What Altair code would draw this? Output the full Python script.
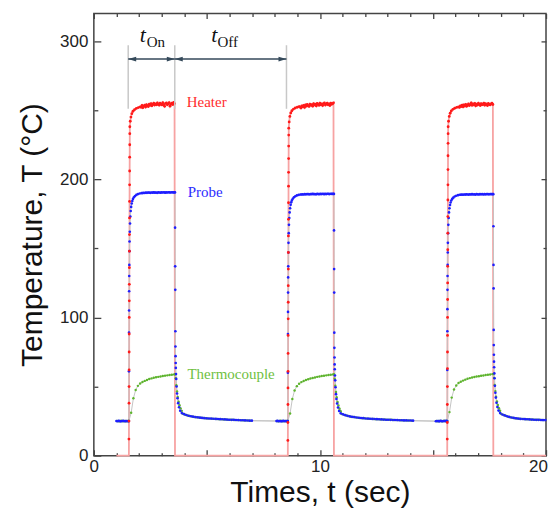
import altair as alt
import pandas as pd

# ---------------- timing of the heater pulses (s) ----------------
ON = [1.55, 8.58, 15.63]
OFF = [3.59, 10.62, 17.67]

# ---------------- Heater ----------------
heater_rise_dt = [0, .002, .004, .006, .008, .010, .012, .014, .016, .018, .020, .022, .024, .026,
                  .028, .030, .032, .034, .036, .038, .040, .042, .06, .09, .13, .18, .25, .33, .42, .50]
heater_rise = [
    [0, 12, 25, 38, 50, 62, 75, 88, 100, 112, 124, 136, 148, 160, 172, 184, 196, 206, 216, 225, 233, 238,
     242, 245, 247.5, 249.2, 250.4, 251.3, 251.9, 252.4],
    [0, 11, 24, 37, 49, 61, 74, 87, 99, 111, 123, 135, 147, 159, 171, 183, 195, 205, 215, 224, 232, 237,
     241.5, 245.5, 248, 249.6, 250.8, 251.6, 252.1, 252.6],
    [0, 12, 24, 37, 50, 63, 75, 87, 100, 113, 125, 137, 149, 161, 173, 185, 196, 207, 217, 226, 233, 238,
     242, 245.5, 247.8, 249.4, 250.6, 251.4, 252.0, 252.4],
]
heater_plateau_t0, heater_plateau_step = 0.54, 0.04
heater_plateau = [
    [252.1, 253.4, 251.8, 252.9, 253.6, 252.3, 254.0, 253.1, 252.6, 254.3, 253.5, 254.8, 253.2, 254.1,
     255.0, 253.7, 254.6, 253.9, 255.3, 254.2, 253.6, 255.1, 254.4, 253.8, 255.4, 254.0, 252.8, 254.9,
     255.2, 253.9, 254.6, 255.5, 252.9, 254.3, 255.0, 254.1, 255.6, 254.8],
    [252.3, 251.6, 253.0, 252.4, 253.5, 252.0, 253.8, 252.9, 254.1, 253.2, 252.7, 254.4, 253.6, 254.0,
     252.9, 254.7, 253.8, 254.3, 253.1, 254.9, 254.2, 253.5, 255.0, 253.9, 254.5, 253.3, 254.8, 255.2,
     253.7, 254.4, 255.1, 253.9, 254.6, 253.4, 255.0, 254.3, 254.7, 255.3],
    [252.0, 253.1, 252.6, 253.7, 252.4, 253.9, 253.0, 254.2, 252.8, 253.6, 254.5, 253.3, 254.0, 255.2,
     253.5, 254.6, 253.8, 254.9, 253.2, 254.4, 253.7, 255.0, 254.1, 253.4, 254.8, 253.9, 254.3, 255.1,
     253.6, 254.7, 254.0, 253.3, 254.9, 254.2, 253.8, 254.6, 255.0, 254.1],
]

# ---------------- Probe ----------------
probe_pre_step = 0.05
probe_pre = [
    [25.1, 24.9, 25.2, 25.0, 24.8, 25.1, 25.2, 24.9, 25.0, 25.1, 24.9],
    [25.0, 25.2, 24.9, 25.1, 24.8, 25.0, 25.2, 24.9, 25.1, 25.0],
    [24.9, 25.1, 25.0, 24.8, 25.2, 25.0, 24.9, 25.1, 25.0, 25.2],
]
probe_rise_dt = [0.0, 0.003, 0.006, 0.009, 0.012, 0.015, 0.02, 0.025, 0.03, 0.04, 0.05, 0.065, 0.08,
                 0.1, 0.125, 0.15, 0.18, 0.22, 0.27, 0.33, 0.4, 0.48, 0.56]
probe_rise = [
    [25, 61, 89, 105, 119, 130, 138, 148, 155, 162, 168, 173, 177, 180, 182.5, 184.3, 185.7, 186.9,
     187.9, 188.7, 189.3, 189.7, 190.0],
    [25, 60, 88, 104, 118, 129, 137, 147, 154, 161, 167, 172, 176, 179, 181.5, 183.3, 184.7, 185.9,
     186.9, 187.7, 188.3, 188.7, 189.0],
    [25, 62, 90, 106, 120, 130, 138, 147, 154, 161, 167, 172, 176, 179, 181.4, 183.2, 184.6, 185.8,
     186.7, 187.5, 188.1, 188.5, 188.8],
]
probe_plateau_t0, probe_plateau_step = 0.6, 0.05
probe_plateau = [
    [190.0, 190.2, 190.1, 190.3, 190.2, 190.4, 190.3, 190.2, 190.4, 190.3, 190.5, 190.3, 190.4, 190.2,
     190.5, 190.4, 190.3, 190.5, 190.4, 190.6, 190.3, 190.5, 190.4, 190.6, 190.5, 190.4, 190.6, 190.5,
     190.5],
    [189.0, 189.1, 189.0, 189.2, 189.1, 189.3, 189.2, 189.1, 189.3, 189.2, 189.4, 189.2, 189.3, 189.1,
     189.4, 189.3, 189.2, 189.4, 189.3, 189.5, 189.2, 189.4, 189.3, 189.5, 189.4, 189.3, 189.5, 189.4,
     189.4],
    [188.8, 188.9, 188.8, 189.0, 188.9, 189.1, 189.0, 188.9, 189.1, 189.0, 189.2, 189.0, 189.1, 188.9,
     189.2, 189.1, 189.0, 189.2, 189.1, 189.3, 189.0, 189.2, 189.1, 189.3, 189.2, 189.1, 189.3, 189.2,
     189.2],
]
probe_decay_ds = [0.0, 0.004, 0.008, 0.012, 0.016, 0.02, 0.025, 0.03, 0.035, 0.045, 0.055, 0.07,
                  0.09, 0.11, 0.14, 0.18, 0.23, 0.3]
probe_decay = [
    [190.5, 165, 137, 120, 90, 79, 72, 67, 63.5, 59, 55.5, 50, 45, 41.5, 38, 35, 32.5, 30.8],
    [189.4, 163, 135, 118, 89, 78, 71, 66, 62.5, 58, 54.5, 49.5, 44.5, 41, 37.7, 34.8, 32.3, 30.6],
    [189.2, 166, 138, 121, 91, 80, 73, 68, 64, 59.5, 56, 50.5, 45.5, 42, 38.3, 35.2, 32.6, 30.8],
]
probe_tail_t0, probe_tail_step = 0.4, 0.1
probe_tail = [
    [30.0, 29.4, 28.9, 28.5, 28.2, 27.9, 27.7, 27.5, 27.3, 27.1, 27.0, 26.9, 26.8, 26.7, 26.6, 26.5,
     26.4, 26.3, 26.2, 26.1, 26.0, 25.9, 25.9, 25.8, 25.7, 25.6, 25.6, 25.5, 25.4, 25.3, 25.3],
    [29.9, 29.3, 28.8, 28.4, 28.1, 27.9, 27.6, 27.4, 27.2, 27.1, 26.9, 26.8, 26.7, 26.6, 26.5, 26.4,
     26.3, 26.2, 26.1, 26.0, 26.0, 25.9, 25.8, 25.8, 25.7, 25.6, 25.6, 25.5, 25.5, 25.4, 25.4, 25.3],
    [29.8, 29.1, 28.5, 28.0, 27.6, 27.3, 27.0, 26.8, 26.6, 26.5, 26.4, 26.3, 26.2, 26.1, 26.0, 25.9,
     25.9, 25.8, 25.7, 25.7],
]

# ---------------- Thermocouple ----------------
thermo_pre = [
    [25.0, 25.1, 24.9, 25.0, 25.2, 24.9, 25.0, 25.1, 24.8, 25.0, 25.1],
    [25.1, 24.9, 25.0, 25.2, 25.0, 24.9, 25.1, 25.0, 24.8, 25.0],
    [25.0, 24.9, 25.1, 25.0, 25.1, 24.8, 25.0, 25.2, 24.9, 25.0],
]
thermo_rise_step = 0.1
thermo_rise = [
    [25.0, 31.0, 41.5, 47.5, 50.5, 52.2, 53.3, 54.1, 54.8, 55.4, 55.9, 56.3, 56.7, 57.0, 57.3, 57.6,
     57.9, 58.1, 58.4, 58.6, 58.8],
    [25.0, 30.5, 41.0, 47.2, 50.3, 52.0, 53.2, 54.0, 54.7, 55.3, 55.8, 56.2, 56.6, 57.0, 57.3, 57.6,
     57.8, 58.1, 58.3, 58.6, 58.8],
    [25.0, 31.5, 42.0, 47.8, 50.8, 52.5, 53.5, 54.3, 55.0, 55.6, 56.1, 56.5, 56.9, 57.2, 57.5, 57.8,
     58.0, 58.3, 58.5, 58.7, 59.0],
]
thermo_decay_ds = [0.0, 0.03, 0.06, 0.09, 0.12, 0.16, 0.2, 0.25, 0.3]
thermo_decay = [
    [58.9, 56.0, 51.0, 46.5, 42.5, 39.0, 36.5, 34.2, 32.4],
    [58.9, 55.7, 50.6, 46.1, 42.2, 38.8, 36.3, 34.0, 32.2],
    [59.1, 56.2, 51.2, 46.7, 42.7, 39.2, 36.6, 34.3, 32.5],
]
thermo_tail_t0, thermo_tail_step = 0.35, 0.1
thermo_tail = [
    [30.3, 29.6, 29.1, 28.7, 28.3, 28.0, 27.8, 27.6, 27.4, 27.2, 27.0, 26.9, 26.8, 26.7, 26.6, 26.5,
     26.4, 26.3, 26.2, 26.1, 26.0, 26.0, 25.9, 25.8, 25.7, 25.7, 25.6, 25.5, 25.5, 25.4, 25.3],
    [30.2, 29.5, 29.0, 28.6, 28.2, 27.9, 27.7, 27.5, 27.3, 27.1, 27.0, 26.8, 26.7, 26.6, 26.5, 26.4,
     26.3, 26.2, 26.1, 26.1, 26.0, 25.9, 25.9, 25.8, 25.7, 25.7, 25.6, 25.5, 25.5, 25.4, 25.4, 25.3],
    [30.1, 29.4, 28.8, 28.2, 27.8, 27.4, 27.1, 26.9, 26.7, 26.6, 26.5, 26.4, 26.3, 26.2, 26.1, 26.0,
     25.9, 25.9, 25.8, 25.7],
]

# ---------------- annotation values ----------------
marker_times = [1.52, 3.58, 8.52]          # thin grey guide lines
marker_low, marker_high = 251, 297
arrow_level = 287
series_labels = ["Heater", "Probe", "Thermocouple"]


# ---------------- assemble tables ----------------
def grid(t0, step, n):
    return [t0 + step * k for k in range(n)]


def build_heater():
    t, v = [1.0], [0.0]
    for c in range(3):
        t += [ON[c] + d for d in heater_rise_dt]
        v += heater_rise[c]
        t += [ON[c] + d for d in grid(heater_plateau_t0, heater_plateau_step, len(heater_plateau[c]))]
        v += heater_plateau[c]
        t += [OFF[c]]
        v += [0.0]
    t += [20.0]
    v += [0.0]
    return pd.DataFrame({"t": t, "T": v, "i": range(len(t))})


def build_probe():
    t, v = [], []
    for c in range(3):
        n = len(probe_pre[c])
        t += [ON[c] - probe_pre_step * (n - k) for k in range(n)]
        v += probe_pre[c]
        t += [ON[c] + d for d in probe_rise_dt]
        v += probe_rise[c]
        t += [ON[c] + d for d in grid(probe_plateau_t0, probe_plateau_step, len(probe_plateau[c]))]
        v += probe_plateau[c]
        t += [OFF[c] + d for d in probe_decay_ds]
        v += probe_decay[c]
        t += [OFF[c] + d for d in grid(probe_tail_t0, probe_tail_step, len(probe_tail[c]))]
        v += probe_tail[c]
    return pd.DataFrame({"t": t, "T": v, "i": range(len(t))})


def build_thermo():
    t, v = [], []
    for c in range(3):
        n = len(thermo_pre[c])
        t += [ON[c] - probe_pre_step * (n - k) + probe_pre_step / 2 for k in range(n)]
        v += thermo_pre[c]
        t += [ON[c] + d for d in grid(0.0, thermo_rise_step, len(thermo_rise[c]))]
        v += thermo_rise[c]
        t += [OFF[c] + d for d in thermo_decay_ds]
        v += thermo_decay[c]
        t += [OFF[c] + d for d in grid(thermo_tail_t0, thermo_tail_step, len(thermo_tail[c]))]
        v += thermo_tail[c]
    return pd.DataFrame({"t": t, "T": v, "i": range(len(t))})


heater_df = build_heater()
probe_df = build_probe()
thermo_df = build_thermo()

markers_df = pd.DataFrame({"t": marker_times, "lo": [marker_low] * 3, "hi": [marker_high] * 3})
arrows_df = pd.DataFrame({"t": marker_times[:2], "t2": marker_times[1:], "T": [arrow_level] * 2})
heads_right_df = pd.DataFrame({"t": marker_times[1:], "T": [arrow_level] * 2})
heads_left_df = pd.DataFrame({"t": marker_times[:2], "T": [arrow_level] * 2})

labels_df = pd.DataFrame({
    "t": [4.11, 4.15, 4.14],
    "T": [252.4, 187.5, 55.5],
    "label": series_labels,
    "color": ["#ff2d2d", "#2d2dff", "#6fbf3f"],
})
t_df = pd.DataFrame({"t": [2.03, 5.19], "T": [299, 299], "label": ["t", "t"]})
sub_df = pd.DataFrame({"t": [2.34, 5.47], "T": [296, 296], "label": ["On", "Off"]})

# ---------------- scales & axes ----------------
W, H = 453, 443
XS = alt.Scale(domain=[0, 20], nice=False, zero=False)
YS = alt.Scale(domain=[0, 320], nice=False)
INK = "#444444"
SANS = "Liberation Sans"
SERIF = "Liberation Serif"

x_main = alt.Axis(orient="bottom", values=[0, 10, 20], ticks=False, domain=False, grid=False,
                  labelFont=SANS, labelFontSize=17, labelColor="#222222", labelPadding=3,
                  labelFlush=False,
                  labelOffset={"condition": {"test": "datum.value === 20", "value": -8}, "value": 0},
                  title="Times, t (sec)", titleFont=SANS, titleFontSize=30,
                  titleFontWeight="normal", titleColor="#111111", titlePadding=3)
y_main = alt.Axis(orient="left", values=[0, 100, 200, 300], ticks=False, domain=False, grid=False,
                  labelFont=SANS, labelFontSize=17, labelColor="#222222", labelPadding=6,
                  title="Temperature, T (°C)", titleFont=SANS, titleFontSize=30,
                  titleFontWeight="normal", titleColor="#111111", titlePadding=12)


def tick_axis(orient, offset, values, test, big, small):
    return alt.Axis(orient=orient, offset=offset, values=values, labels=False, domain=False,
                    grid=False, title=None, tickColor=INK, tickWidth=1.3,
                    tickSize={"condition": {"test": test, "value": big}, "value": small})


x_vals = list(range(0, 21))
y_vals = list(range(0, 301, 50))
x_in_bottom = tick_axis("top", -H, x_vals, "datum.value % 5 === 0", 6, 3)
x_in_top = tick_axis("bottom", -H, x_vals, "datum.value % 5 === 0", 5, 3)
y_in_left = tick_axis("right", -W, y_vals, "datum.value % 100 === 0", 7, 4)
y_in_right = tick_axis("left", -W, y_vals, "datum.value % 100 === 0", 5, 3)


def xy(x_axis=None, y_axis=None, xf="t:Q", yf="T:Q"):
    return dict(x=alt.X(xf, scale=XS, axis=x_axis), y=alt.Y(yf, scale=YS, axis=y_axis))


heater_line = alt.Chart(heater_df).mark_line(color="#f7a3a3", strokeWidth=1.8).encode(
    order="i:Q", **xy(x_main, y_main))
probe_line = alt.Chart(probe_df).mark_line(color="#c4c4c4", strokeWidth=1).encode(
    order="i:Q", **xy(x_in_bottom, y_in_left))
thermo_line = alt.Chart(thermo_df).mark_line(color="#c4c4c4", strokeWidth=1).encode(
    order="i:Q", **xy(x_in_top, y_in_right))

thermo_pts = alt.Chart(thermo_df).mark_circle(size=6, opacity=1, color="#5db52c").encode(**xy())
probe_pts = alt.Chart(probe_df).mark_circle(size=7, opacity=1, color="#1e1eff").encode(**xy())
heater_pts = alt.Chart(heater_df).transform_filter("datum.T > 0").mark_circle(
    size=8, opacity=1, color="#ff1a1a").encode(**xy())

markers = alt.Chart(markers_df).mark_rule(color="#c8c8c8", strokeWidth=1.5).encode(
    x=alt.X("t:Q", scale=XS, axis=None), y=alt.Y("lo:Q", scale=YS, axis=None), y2="hi:Q")
arrows = alt.Chart(arrows_df).mark_rule(color="#34495a", strokeWidth=1.4).encode(
    x=alt.X("t:Q", scale=XS, axis=None), x2="t2:Q", y=alt.Y("T:Q", scale=YS, axis=None))
heads_r = alt.Chart(heads_right_df).mark_point(
    shape="M -1 -0.6 L 1 0 L -1 0.6 Z", size=64, filled=True, opacity=1, color="#34495a",
    strokeWidth=0, xOffset=-4).encode(**xy())
heads_l = alt.Chart(heads_left_df).mark_point(
    shape="M 1 -0.6 L -1 0 L 1 0.6 Z", size=64, filled=True, opacity=1, color="#34495a",
    strokeWidth=0, xOffset=4).encode(**xy())

series_text = alt.Chart(labels_df).mark_text(
    font=SERIF, fontSize=15, align="left", baseline="alphabetic").encode(
    text="label:N", color=alt.Color("color:N", scale=None), **xy())
t_text = alt.Chart(t_df).mark_text(
    font=SERIF, fontSize=22, fontStyle="italic", align="left", baseline="alphabetic",
    color="#111111").encode(text="label:N", **xy())
sub_text = alt.Chart(sub_df).mark_text(
    font=SERIF, fontSize=15, align="left", baseline="alphabetic", color="#111111").encode(
    text="label:N", **xy())

chart = alt.layer(
    heater_line, probe_line, thermo_line, thermo_pts, probe_pts, heater_pts,
    markers, arrows, heads_r, heads_l, series_text, t_text, sub_text,
).resolve_axis(x="independent", y="independent").properties(
    width=W, height=H, padding={"left": 9, "top": 4, "right": 0, "bottom": 0},
    background="white",
).configure_view(stroke=INK, strokeWidth=1.5)

chart.save("out.html", embed_options={"renderer": "svg", "actions": False})
